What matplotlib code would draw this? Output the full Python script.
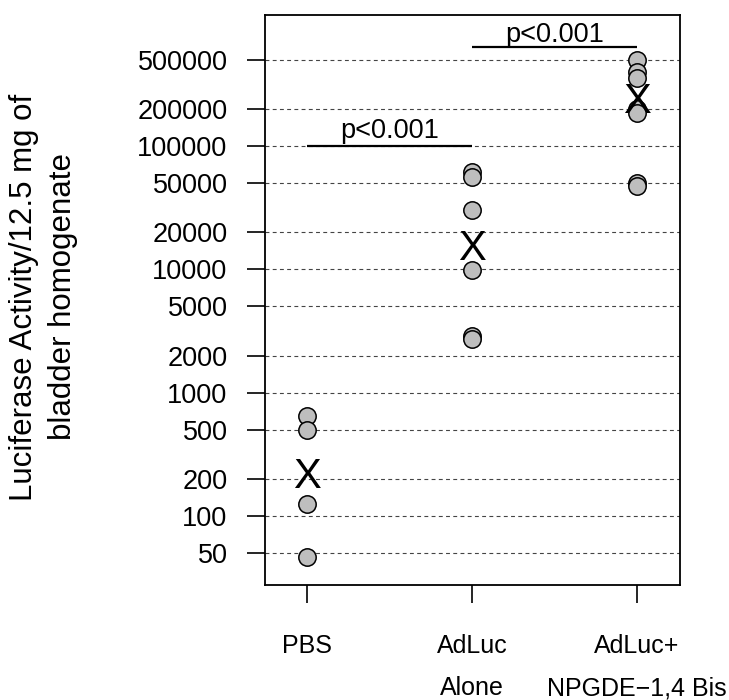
import matplotlib
matplotlib.use("Agg")
import matplotlib.pyplot as plt
from matplotlib.ticker import FixedLocator, NullLocator

plt.rcParams['font.family'] = ['Liberation Sans', 'DejaVu Sans']

# ---- data ----
groups = ["PBS", "AdLuc\nAlone", "AdLuc+\nNPGDE\u22121,4 Bis"]
group_pos = [1, 2, 3]
pbs_vals = [650, 500, 125, 46]
adluc_vals = [62000, 56000, 30500, 9800, 2900, 2700]
combo_vals = [500000, 400000, 360000, 200000, 185000, 50000, 47000]
group_means = [205, 14600, 228000]
ytick_vals = [50, 100, 200, 500, 1000, 2000, 5000, 10000, 20000, 50000,
              100000, 200000, 500000]
ytick_labels = [str(v) for v in ytick_vals]
# significance bars
sig_x0 = [1, 2]
sig_x1 = [2, 3]
sig_y = [100000, 640000]
sig_text_y = [116000, 705000]
sig_labels = ["p<0.001", "p<0.001"]

fig = plt.figure(figsize=(7.29, 7.0), dpi=100)
ax = fig.add_axes([265/729, 1 - 585/700, (680-265)/729, (585-15)/700])
ax.set_yscale('log')
ax.set_ylim(27.5, 1.157e6)
ax.set_xlim(0.745, 3.26)

# grid lines
for v in ytick_vals:
    ax.axhline(v, color='#444444', lw=0.8, ls=(0, (3.5, 3)), zorder=1)

all_vals = [pbs_vals, adluc_vals, combo_vals]
for x, vals in zip(group_pos, all_vals):
    ax.plot([x]*len(vals), vals, ls='none', marker='o', ms=12.5,
            mfc='#bebebe', mec='black', mew=1.1, zorder=3)

for x, m in zip(group_pos, group_means):
    ax.text(x, m, "X", ha='center', va='center', fontsize=30,
            color='black', zorder=4)

for x0, x1, y, ty, lab in zip(sig_x0, sig_x1, sig_y, sig_text_y, sig_labels):
    ax.plot([x0, x1], [y, y], color='black', lw=1.6, zorder=2,
            solid_capstyle='butt', clip_on=False)
    ax.text((x0 + x1)/2, ty, lab, ha='center', va='baseline', fontsize=19.5)

ax.yaxis.set_major_locator(FixedLocator(ytick_vals))
ax.yaxis.set_minor_locator(NullLocator())
ax.set_yticklabels(ytick_labels)
ax.set_xticks(group_pos)
ax.set_xticklabels(groups, linespacing=1.97)
ax.tick_params(axis='y', length=13, width=1.2, pad=14, labelsize=19.5)
ax.tick_params(axis='x', length=13, width=1.2, pad=22, labelsize=18)
for s in ax.spines.values():
    s.set_linewidth(1.3)

ax.set_ylabel("Luciferase Activity/12.5 mg of\nbladder homogenate",
              fontsize=22.5, linespacing=1.4)
ax.yaxis.set_label_coords(-0.451, (700-297-115)/570)

fig.savefig("out.png", dpi=100)
